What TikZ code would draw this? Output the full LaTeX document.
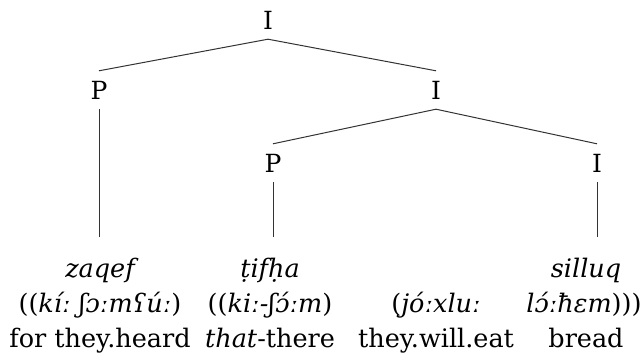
\documentclass[tikz,border=0pt]{standalone}
\usepackage{fontspec}
\setmainfont{DejaVu Serif}
\begin{document}
\begin{tikzpicture}[x=1pt,y=-1pt,
  cat/.style={font=\fontsize{25}{30}\selectfont, anchor=center, inner sep=10pt, text height=18pt, text depth=0pt},
  leaftop/.style={font=\fontsize{25.5}{30}\selectfont, anchor=base, inner xsep=0pt, inner ysep=21pt, text height=19pt},
  leafline/.style={font=\fontsize{25.5}{30}\selectfont, anchor=base, inner sep=0pt},
  branch/.style={draw=black!80, line width=1pt}]
\useasboundingbox (0,0) rectangle (644,356);
% category labels
\node[cat] (i0) at (268,20) {I};
\node[cat] (p1) at (99,90) {P};
\node[cat] (i1) at (436,90) {I};
\node[cat] (p2) at (273,163) {P};
\node[cat] (i2) at (597,163) {I};
% leaves: first line of each word
\node[leaftop] (z) at (100,277) {\itshape zaqef};
\node[leaftop] (t) at (270,277) {\itshape ṭifḥa};
\node[leaftop] (s) at (586,277) {\itshape silluq};
% second and third lines
\node[leafline] (z2) at (100,312) {((\textit{kíː ʃɔːmʕúː})};
\node[leafline] (z3) at (100,347) {for they.heard};
\node[leafline] (t2) at (270,312) {((\textit{kiː-ʃɔ́ːm})};
\node[leafline] (t3) at (270,347) {\textit{that}-there};
\node[leafline] (j2) at (436,312) {(\textit{jóːxluː}};
\node[leafline] (j3) at (436,347) {they.will.eat};
\node[leafline] (s2) at (584,312) {\textit{lɔ́ːħɛm})))};
\node[leafline] (s3) at (586,347) {bread};
% branches
\draw[branch] (i0.south) -- (p1.north);
\draw[branch] (i0.south) -- (i1.north);
\draw[branch] (i1.south) -- (p2.north);
\draw[branch] (i1.south) -- (i2.north);
\draw[branch] (p1.south) -- (p1.south |- z.north);
\draw[branch] (p2.south) -- (p2.south |- t.north);
\draw[branch] (i2.south) -- (i2.south |- s.north);
\end{tikzpicture}
\end{document}
